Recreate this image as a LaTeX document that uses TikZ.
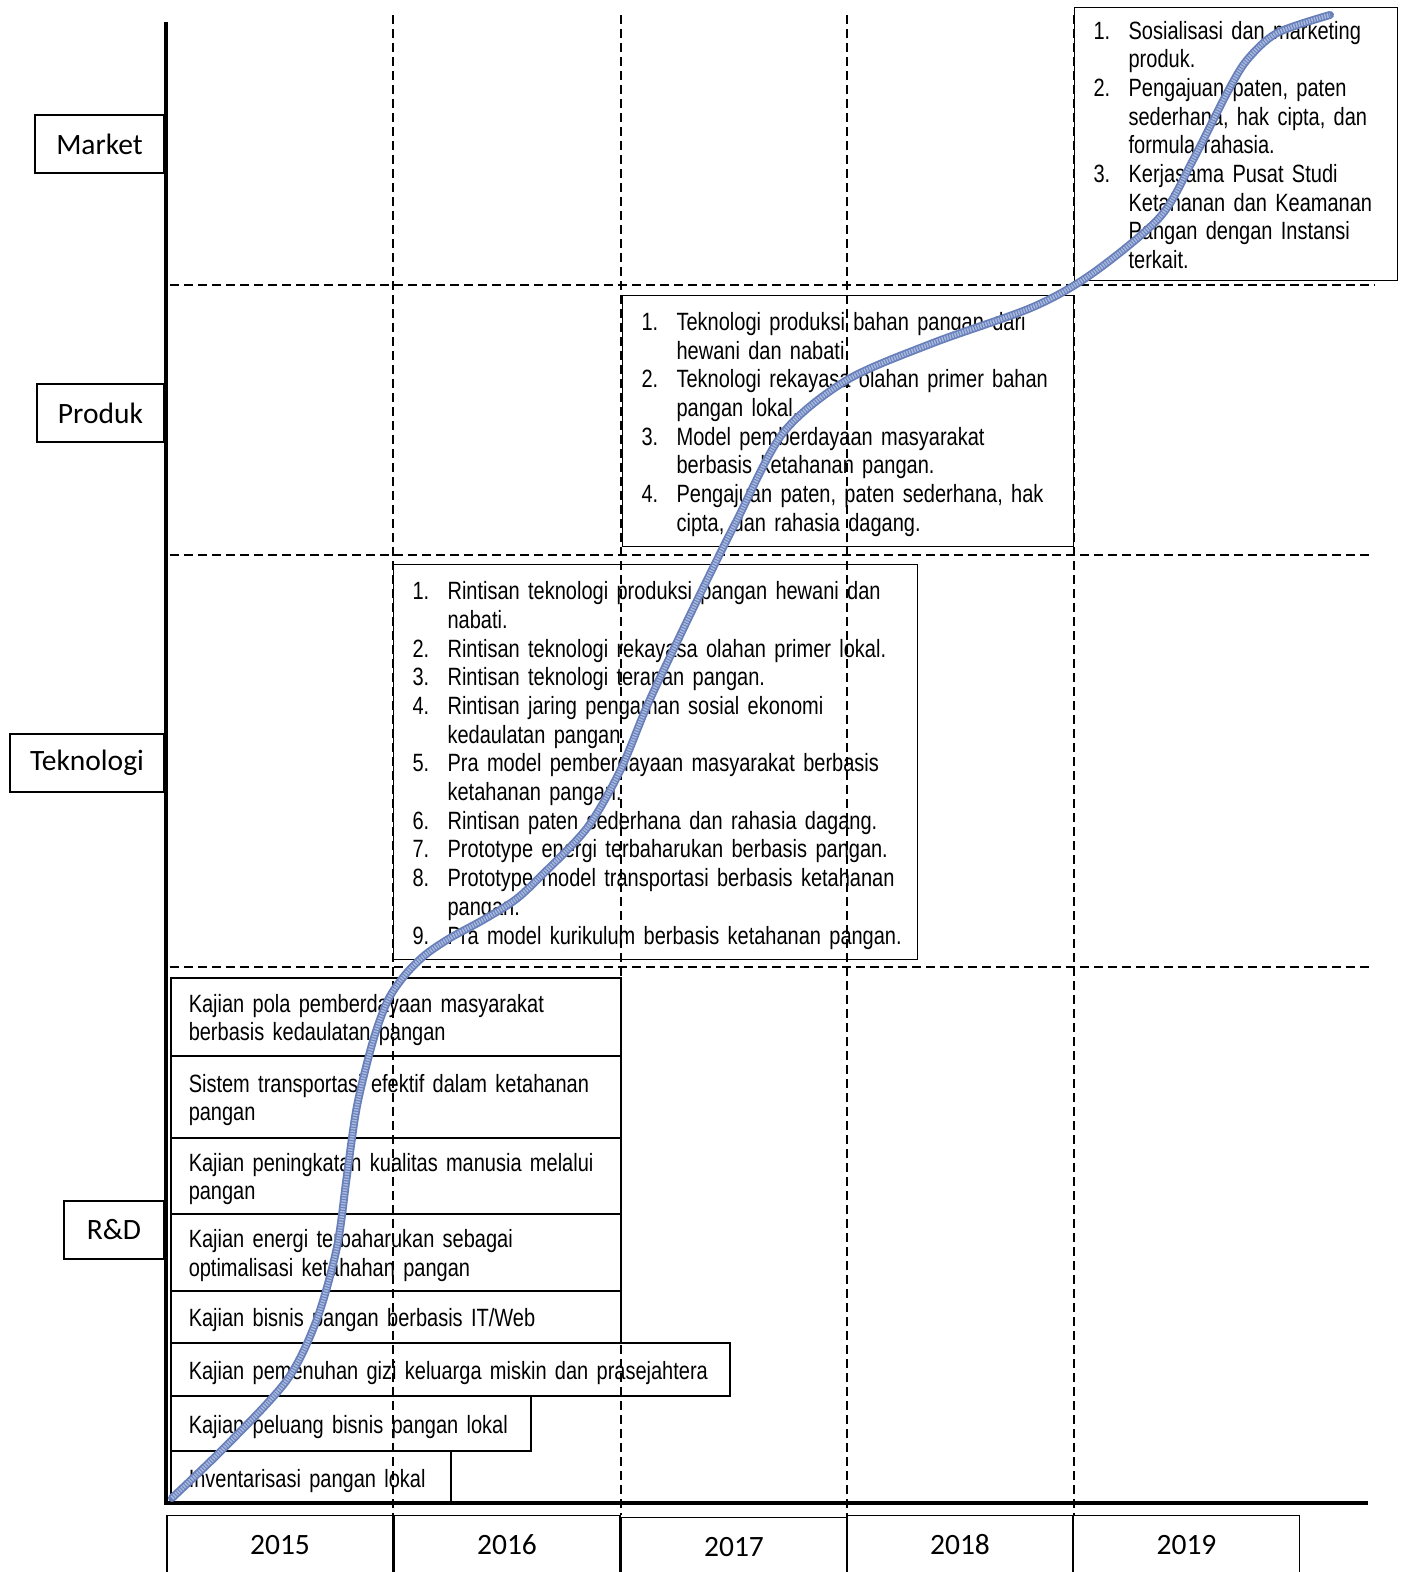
\documentclass[tikz,border=0pt]{standalone}
\usepackage{fontspec}
\newfontfamily\calfont{Carlito}
\newfontfamily\narrowfont[FakeStretch=0.80,WordSpace=0.82]{Liberation Sans}
\newcommand{\lsz}{\narrowfont\fontsize{25}{28.7}\selectfont}
\newcommand{\topgap}{\noalign{\vskip 8pt}}
\definecolor{curveblue}{RGB}{104,128,186}
\definecolor{curvelight}{RGB}{168,184,222}
\begin{document}
\begin{tikzpicture}[x=1pt,y=-1pt,
  lbl/.style={draw,line width=1.2pt,inner sep=0pt,font=\calfont\fontsize{29.5}{35}\selectfont},
  yr/.style={lbl,anchor=north,minimum width=226pt,minimum height=58pt},
  lst/.style={draw,line width=1.2pt,anchor=north west,inner xsep=19pt,inner ysep=0pt,align=left,font=\lsz},
  rd/.style={lst,line width=1.5pt,inner xsep=18pt},
  grid/.style={dash pattern=on 9pt off 5pt,line width=1.2pt},
  axis/.style={line width=4pt}]
\useasboundingbox (0,0) rectangle (1407,1572);
% grid
\draw[grid] (393,15)--(393,1515) (621,15)--(621,1515) (847,15)--(847,1515) (1074,15)--(1074,1515);
\draw[grid] (170,285)--(1375,285) (170,555)--(1370,555) (170,967)--(1372,967);
% row labels
\node[lbl,minimum width=129pt,minimum height=58pt] (lblMarket) at (99.5,144) {Market};
\node[lbl,minimum width=127pt,minimum height=58pt] (lblProduk) at (100.5,413) {Produk};
\node[lbl,minimum width=154pt,minimum height=58pt] (lblTek) at (87,763) {Teknologi};
\node[lbl,minimum width=100pt,minimum height=58pt] (lblRD) at (114,1230) {R\&D};
% years
\node[yr] (yr2015) at (280,1515) {2015};
\node[yr] (yr2016) at (507,1515) {2016};
\node[yr] (yr2017) at (734,1517) {2017};
\node[yr] (yr2018) at (960,1515) {2018};
\node[yr] (yr2019) at (1186.5,1515) {2019};
% market
\node[lst,text width=285pt,minimum height=273pt] (listMarket) at (1074,7) {\begin{tabular}{@{}p{35pt}@{}l@{}}\topgap
1. & Sosialisasi dan marketing\\
 & produk.\\
2. & Pengajuan paten, paten\\
 & sederhana, hak cipta, dan\\
 & formula rahasia.\\
3. & Kerjasama Pusat Studi\\
 & Ketahanan dan Keamanan\\
 & Pangan dengan Instansi\\
 & terkait.
\end{tabular}};
% produk
\node[lst,text width=413pt,minimum height=251pt] (listProduk) at (622,295) {\begin{tabular}{@{}p{35pt}@{}l@{}}\topgap
1. & Teknologi produksi bahan pangan dari\\
 & hewani dan nabati.\\
2. & Teknologi rekayasa olahan primer bahan\\
 & pangan lokal.\\
3. & Model pemberdayaan masyarakat\\
 & berbasis ketahanan pangan.\\
4. & Pengajuan paten, paten sederhana, hak\\
 & cipta, dan rahasia dagang.
\end{tabular}};
% teknologi
\node[lst,text width=486pt,minimum height=395pt] (listTek) at (393,564) {\begin{tabular}{@{}p{35pt}@{}l@{}}\topgap
1. & Rintisan teknologi produksi pangan hewani dan\\
 & nabati.\\
2. & Rintisan teknologi rekayasa olahan primer lokal.\\
3. & Rintisan teknologi terapan pangan.\\
4. & Rintisan jaring pengaman sosial ekonomi\\
 & kedaulatan pangan.\\
5. & Pra model pemberdayaan masyarakat berbasis\\
 & ketahanan pangan.\\
6. & Rintisan paten sederhana dan rahasia dagang.\\
7. & Prototype energi terbaharukan berbasis pangan.\\
8. & Prototype model transportasi berbasis ketahanan\\
 & pangan.\\
9. & Pra model kurikulum berbasis ketahanan pangan.
\end{tabular}};
% r&d
\node[rd,text width=414pt,minimum height=78pt] (rd1) at (170,977) {\begin{tabular}{@{}l@{}}\topgap Kajian pola pemberdayaan masyarakat\\berbasis kedaulatan pangan\end{tabular}};
\node[rd,text width=414pt,minimum height=82pt] (rd2) at (170,1055) {\begin{tabular}{@{}l@{}}\topgap Sistem transportasi efektif dalam ketahanan\\pangan\end{tabular}};
\node[rd,text width=414pt,minimum height=76pt] (rd3) at (170,1137) {\begin{tabular}{@{}l@{}}\topgap Kajian peningkatan kualitas manusia melalui\\pangan\end{tabular}};
\node[rd,text width=414pt,minimum height=77pt] (rd4) at (170,1213) {\begin{tabular}{@{}l@{}}\topgap Kajian energi terbaharukan sebagai\\optimalisasi ketahahan pangan\end{tabular}};
\node[rd,text width=414pt,minimum height=52pt] (rd5) at (170,1290) {\begin{tabular}{@{}l@{}}\topgap Kajian bisnis pangan berbasis IT/Web\end{tabular}};
\node[rd,text width=523pt,minimum height=53pt] (rd6) at (170,1342) {\begin{tabular}{@{}l@{}}\topgap Kajian pemenuhan gizi keluarga miskin dan prasejahtera\end{tabular}};
\node[rd,text width=324pt,minimum height=55pt] (rd7) at (170,1395) {\begin{tabular}{@{}l@{}}\topgap Kajian peluang bisnis pangan lokal\end{tabular}};
\node[rd,text width=244pt,minimum height=53pt] (rd8) at (170,1450) {\begin{tabular}{@{}l@{}}\topgap Inventarisasi pangan lokal\end{tabular}};
% axes
\draw[axis] (166,22)--(166,1505) (164,1503)--(1368,1503);
% curve
\draw[curveblue,line width=8pt,line cap=round] plot[smooth,tension=0.5] coordinates {
 (172,1498) (227,1445) (287,1380) (317,1319) (337,1247) (347,1175) (357,1106)
 (373,1041) (388,1000) (405,975) (425,955) (450,938) (483,920) (515,900) (540,877)
 (587,828) (620,771) (647,706) (677,642) (707,580) (737,520) (783,433) (847,380)
 (933,343) (1033,307) (1093,273) (1160,217) (1193,160) (1227,93) (1247,60) (1277,33) (1330,15)};
\draw[curvelight,line width=4.5pt,dash pattern=on 1.5pt off 1.2pt] plot[smooth,tension=0.5] coordinates {
 (172,1498) (227,1445) (287,1380) (317,1319) (337,1247) (347,1175) (357,1106)
 (373,1041) (388,1000) (405,975) (425,955) (450,938) (483,920) (515,900) (540,877)
 (587,828) (620,771) (647,706) (677,642) (707,580) (737,520) (783,433) (847,380)
 (933,343) (1033,307) (1093,273) (1160,217) (1193,160) (1227,93) (1247,60) (1277,33) (1330,15)};
\end{tikzpicture}
\end{document}
